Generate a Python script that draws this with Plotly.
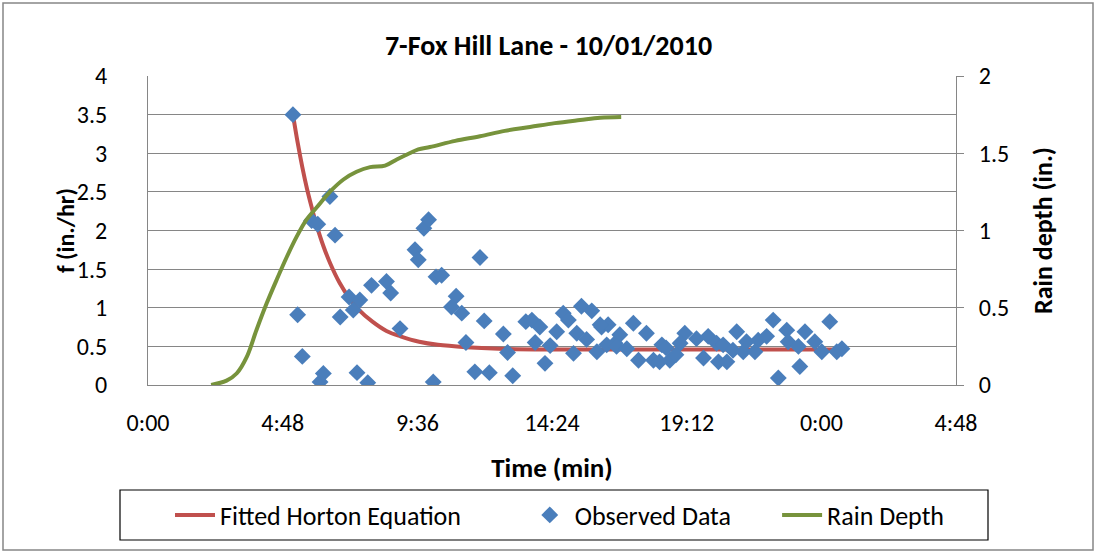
import plotly.graph_objects as go

# ---- data ----
title_text = "7-Fox Hill Lane - 10/01/2010"
x_tick_vals = [0, 288, 576, 864, 1152, 1440, 1728]
x_tick_text = ["0:00", "4:48", "9:36", "14:24", "19:12", "0:00", "4:48"]

# Fitted Horton equation (minutes, in./hr)
horton_t = [310, 320, 330, 340, 350, 360, 375, 390, 410, 430, 450, 480, 510, 540,
            580, 620, 680, 750, 850, 1000, 1200, 1470]
horton_f = [3.50, 3.14, 2.82, 2.54, 2.30, 2.08, 1.80, 1.57, 1.32, 1.13, 0.98, 0.82,
            0.70, 0.63, 0.56, 0.52, 0.49, 0.47, 0.46, 0.46, 0.46, 0.46]

# Observed data (minutes, in./hr)
obs_t = [310, 320, 330, 350, 363, 389, 400, 368, 375, 447, 470, 430, 453, 439, 411,
         478, 510, 519, 539, 571, 578, 590, 600, 610, 616, 628, 710, 659, 649, 671,
         719, 680, 699, 730, 760, 769, 780, 808, 821, 828, 838, 849, 860, 874, 888,
         899, 910, 917, 927, 949, 938, 960, 970, 984, 999, 981, 1009, 1002, 1038, 1024,
         1049, 1066, 1081, 1099, 1116, 1108, 1148, 1138, 1129, 1173, 1188, 1198, 1220,
         1216, 1238, 1230, 1259, 1251, 1280, 1273, 1305, 1298, 1323, 1337, 1348, 1366,
         1369, 1394, 1405, 1391, 1426, 1441, 1458, 1473, 1484, 967, 1094]
obs_f = [3.50, 0.91, 0.37, 2.13, 2.08, 2.44, 1.94, 0.04, 0.15, 0.16, 0.03, 1.14, 1.10,
         0.97, 0.88, 1.29, 1.34, 1.19, 0.73, 1.75, 1.62, 2.03, 2.14, 0.04, 1.40, 1.42,
         1.65, 1.15, 1.01, 0.93, 0.83, 0.55, 0.17, 0.16, 0.66, 0.42, 0.12, 0.82, 0.84,
         0.55, 0.75, 0.28, 0.51, 0.69, 0.93, 0.84, 0.41, 0.67, 1.02, 0.96, 0.59, 0.43,
         0.75, 0.78, 0.54, 0.52, 0.65, 0.50, 0.80, 0.47, 0.32, 0.67, 0.32, 0.52, 0.32,
         0.48, 0.67, 0.54, 0.39, 0.60, 0.35, 0.63, 0.30, 0.54, 0.30, 0.52, 0.69, 0.45,
         0.56, 0.43, 0.58, 0.43, 0.63, 0.84, 0.09, 0.71, 0.56, 0.24, 0.69, 0.50, 0.56,
         0.43, 0.82, 0.43, 0.47, 0.78, 0.30]

# Rain depth (minutes, in.)
rain_t = [135, 168, 190, 211, 232, 254, 275, 297, 318, 339, 361, 389, 418, 446, 475,
          507, 532, 553, 578, 603, 657, 710, 763, 817, 870, 924, 967, 1012]
rain_d = [0.0, 0.028, 0.076, 0.18, 0.356, 0.53, 0.68, 0.83, 0.96, 1.07, 1.15, 1.25,
          1.33, 1.38, 1.41, 1.42, 1.46, 1.49, 1.525, 1.54, 1.58, 1.61, 1.645, 1.67,
          1.695, 1.715, 1.73, 1.735]

# ---- style ----
FONT = "Calibri, Carlito, Lato, sans-serif"
GRID = "#868686"
RED = "#C0504D"
BLUE = "#4A7EBB"
GREEN = "#77933C"

L, R, T, B = 148, 141, 76, 168
PW, PH = 1097 - L - R, 553 - T - B


def px_x(px):
    return (px - L) / PW


def px_y(py):
    return (553 - B - py) / PH


NB = "\u00a0"

fig = go.Figure()
fig.add_trace(go.Scatter(x=horton_t, y=horton_f, mode="lines",
                         name="Fitted Horton Equation" + NB * 10,
                         line=dict(color=RED, width=4, shape="spline"), yaxis="y"))
fig.add_trace(go.Scatter(x=obs_t, y=obs_f, mode="markers", name="Observed Data" + NB * 7,
                         marker=dict(symbol="diamond", color=BLUE, size=13,
                                     line=dict(width=0)), yaxis="y"))
fig.add_trace(go.Scatter(x=rain_t, y=rain_d, mode="lines", name="Rain Depth",
                         line=dict(color=GREEN, width=4, shape="spline"), yaxis="y2"))

fig.update_layout(
    width=1097, height=553,
    margin=dict(l=L, r=R, t=T, b=B, autoexpand=False),
    paper_bgcolor="white", plot_bgcolor="white",
    font=dict(family=FONT, size=24, color="black"),
    title=dict(text="<b>" + title_text + "</b>", x=0.5, xanchor="center",
               y=1 - 45 / 553, yanchor="middle", font=dict(size=28)),
    xaxis=dict(range=[0, 1728], tickvals=x_tick_vals, ticktext=x_tick_text,
               showgrid=False, zeroline=False, showline=True, linecolor=GRID,
               linewidth=1, ticks="", ticklabelstandoff=16, automargin=False,
               title=dict(text="<b>Time (min)</b>", font=dict(size=27), standoff=22)),
    yaxis=dict(range=[0, 4], dtick=0.5, showgrid=True, gridcolor=GRID, gridwidth=1,
               zeroline=False, showline=True, linecolor=GRID, ticks="",
               ticklabelstandoff=35, automargin=False),
    yaxis2=dict(range=[0, 2], dtick=0.5, overlaying="y", side="right",
                showgrid=False, zeroline=False, showline=True, linecolor=GRID,
                ticks="outside", ticklen=7, tickcolor=GRID, ticklabelstandoff=10,
                automargin=False,
                title=dict(text="<b>Rain depth (in.)</b>", font=dict(size=26), standoff=25)),
    legend=dict(orientation="h", x=px_x(170), xanchor="left", y=px_y(515), yanchor="middle",
                borderwidth=0, bgcolor="rgba(0,0,0,0)",
                font=dict(size=26), itemwidth=40),
    showlegend=True,
)

# left axis title
fig.add_annotation(text="<b>f (in./hr)</b>", xref="paper", yref="paper",
                   x=px_x(66), y=px_y(231), xanchor="center", yanchor="middle",
                   textangle=-90, showarrow=False, font=dict(size=24))

# legend frame
fig.add_shape(type="rect", xref="paper", yref="paper",
              x0=px_x(120), x1=px_x(988), y0=px_y(540), y1=px_y(490),
              line=dict(color="black", width=1.2), fillcolor="rgba(0,0,0,0)", layer="below")

# outer chart border
fig.add_shape(type="rect", xref="paper", yref="paper",
              x0=px_x(3), x1=px_x(1093), y0=px_y(550), y1=px_y(3),
              line=dict(color=GRID, width=1.5), fillcolor="rgba(0,0,0,0)", layer="below")

fig.write_html("out.html", config={"displayModeBar": False},
               post_script="document.body.style.margin='0px';")
